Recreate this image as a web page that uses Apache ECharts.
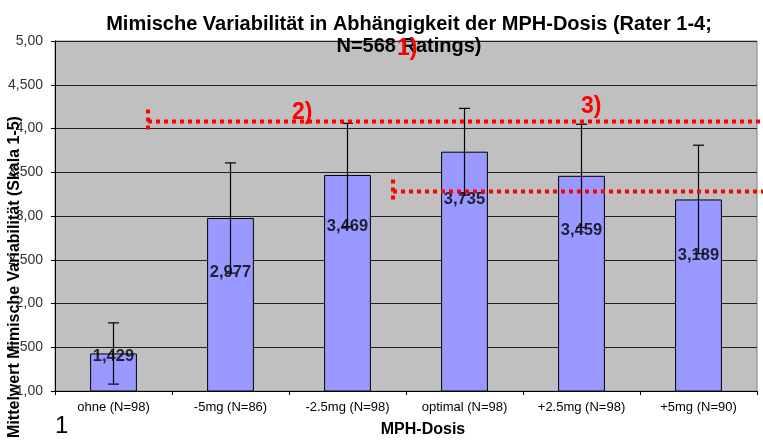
<!DOCTYPE html>
<html>
<head>
<meta charset="utf-8">
<script src="https://cdn.jsdelivr.net/npm/echarts@6/dist/echarts.min.js"></script>
<style>
  html, body { margin: 0; padding: 0; background: #fff; }
  #chart { width: 763px; height: 443px; }
</style>
</head>
<body>
<div id="chart"></div>
<script>
// Kategorien (Dosis) und Mittelwerte
const categories = ['ohne (N=98)', '-5mg (N=86)', '-2.5mg (N=98)', 'optimal (N=98)', '+2.5mg (N=98)', '+5mg (N=90)']
const means = [1.429, 2.977, 3.469, 3.735, 3.459, 3.189]
// Standardabweichungen
const sds = [0.35, 0.63, 0.59, 0.495, 0.59, 0.62]
// Höhe der Wertbeschriftung (in Skaleneinheiten)
const labelAt = [1.40, 2.35, 2.88, 3.19, 2.84, 2.55]
// Hilfslinien (rot gepunktet)
const refLines = [4.08, 3.28]

const font = 'Liberation Sans, Arial, sans-serif'
const chart = echarts.init(document.getElementById('chart'))

const fmtComma = (v, digits) => v.toFixed(digits).replace('.', ',')

const option = {
  backgroundColor: '#fff',
  animation: false,
  title: {
    text: 'Mimische Variabilität in Abhängigkeit der MPH-Dosis (Rater 1-4;\nN=568 Ratings)',
    left: 404,
    textAlign: 'center',
    top: 8,
    textStyle: { fontFamily: font, fontSize: 20, fontWeight: 'bold', color: '#000', lineHeight: 22 }
  },
  grid: { left: 55, right: 6, top: 41, bottom: 49, show: true, backgroundColor: '#c0c0c0', borderColor: '#808080', borderWidth: 1 },
  xAxis: {
    type: 'category',
    data: categories,
    axisLine: { lineStyle: { color: '#000' } },
    axisTick: { show: true, length: 4, lineStyle: { color: '#000' } },
    axisLabel: { fontFamily: font, fontSize: 13, color: '#000', margin: 10, interval: 0 },
    name: 'MPH-Dosis',
    nameLocation: 'middle',
    nameGap: 31,
    nameTextStyle: { fontFamily: font, fontSize: 16, fontWeight: 'bold', color: '#000', padding: [0, 0, 0, 34] }
  },
  yAxis: {
    type: 'value',
    min: 1,
    max: 5,
    interval: 0.5,
    axisLine: { show: true, lineStyle: { color: '#000' } },
    axisTick: { show: true, length: 4, lineStyle: { color: '#000' } },
    splitLine: { lineStyle: { color: '#222', width: 1 } },
    axisLabel: {
      fontFamily: font, fontSize: 14, color: '#333', margin: 12,
      formatter: v => (Number.isInteger(v) ? v + ',00' : Math.floor(v) + ',500')
    }
  },
  series: [
    {
      type: 'bar',
      data: means,
      barWidth: '40%',
      itemStyle: { color: '#9999ff', borderColor: '#000', borderWidth: 1 }
    },
    {
      // Fehlerbalken
      type: 'custom',
      z: 5,
      data: means.map((m, i) => [i, m + sds[i], m - sds[i]]),
      renderItem: (params, api) => {
        const hi = api.coord([api.value(0), api.value(1)])
        const lo = api.coord([api.value(0), api.value(2)])
        const w = 5.5
        const style = { stroke: '#000', lineWidth: 1.2 }
        return {
          type: 'group',
          children: [
            { type: 'line', shape: { x1: hi[0], y1: hi[1], x2: lo[0], y2: lo[1] }, style },
            { type: 'line', shape: { x1: hi[0] - w, y1: hi[1], x2: hi[0] + w, y2: hi[1] }, style },
            { type: 'line', shape: { x1: lo[0] - w, y1: lo[1], x2: lo[0] + w, y2: lo[1] }, style }
          ]
        }
      }
    },
    {
      // Wertbeschriftungen
      type: 'scatter',
      z: 6,
      symbolSize: 0,
      data: labelAt.map((y, i) => [i, y, means[i]]),
      label: {
        show: true,
        position: 'inside',
        formatter: p => fmtComma(p.data[2], 3),
        fontFamily: font, fontSize: 16.5, fontWeight: 'bold', color: '#000'
      }
    }
  ],
  graphic: []
}

chart.setOption(option)

// rote Anmerkungen (gepunktete Linien, Klammern, Nummern)
function drawNotes () {
  const dot = { stroke: '#ff0000', lineWidth: 4, lineDash: [4, 4] }
  const y1 = chart.convertToPixel({ yAxisIndex: 0 }, refLines[0])
  const y2 = chart.convertToPixel({ yAxisIndex: 0 }, refLines[1])
  const red = { fontFamily: font, fontSize: 23, fontWeight: 'bold', fill: '#ff0000' }
  const els = [
    { type: 'line', z: 20, shape: { x1: 148, y1: y1, x2: 763, y2: y1 }, style: dot },
    { type: 'line', z: 20, shape: { x1: 148, y1: y1 - 12, x2: 148, y2: y1 + 8 }, style: dot },
    { type: 'line', z: 20, shape: { x1: 393, y1: y2, x2: 763, y2: y2 }, style: dot },
    { type: 'line', z: 20, shape: { x1: 393, y1: y2 - 12, x2: 393, y2: y2 + 8 }, style: dot },
    { type: 'text', z: 21, x: 292, y: 101, style: Object.assign({ text: '2)' }, red) },
    { type: 'text', z: 21, x: 581, y: 95, style: Object.assign({ text: '3)' }, red) },
    { type: 'text', z: 21, x: 397, y: 37, style: Object.assign({ text: '1)' }, red) },
    {
      type: 'text', z: 21, x: 15, y: 277, rotation: Math.PI / 2,
      style: { text: 'Mittelwert Mimische Variabilität (Skala 1-5)', fontFamily: font, fontSize: 16, fontWeight: 'bold', fill: '#000', align: 'center', verticalAlign: 'middle' }
    },
    { type: 'text', z: 21, x: 55, y: 414, style: { text: '1', fontFamily: font, fontSize: 24, fill: '#000' } }
  ]
  chart.setOption({ graphic: els })
}
drawNotes()
</script>
</body>
</html>
